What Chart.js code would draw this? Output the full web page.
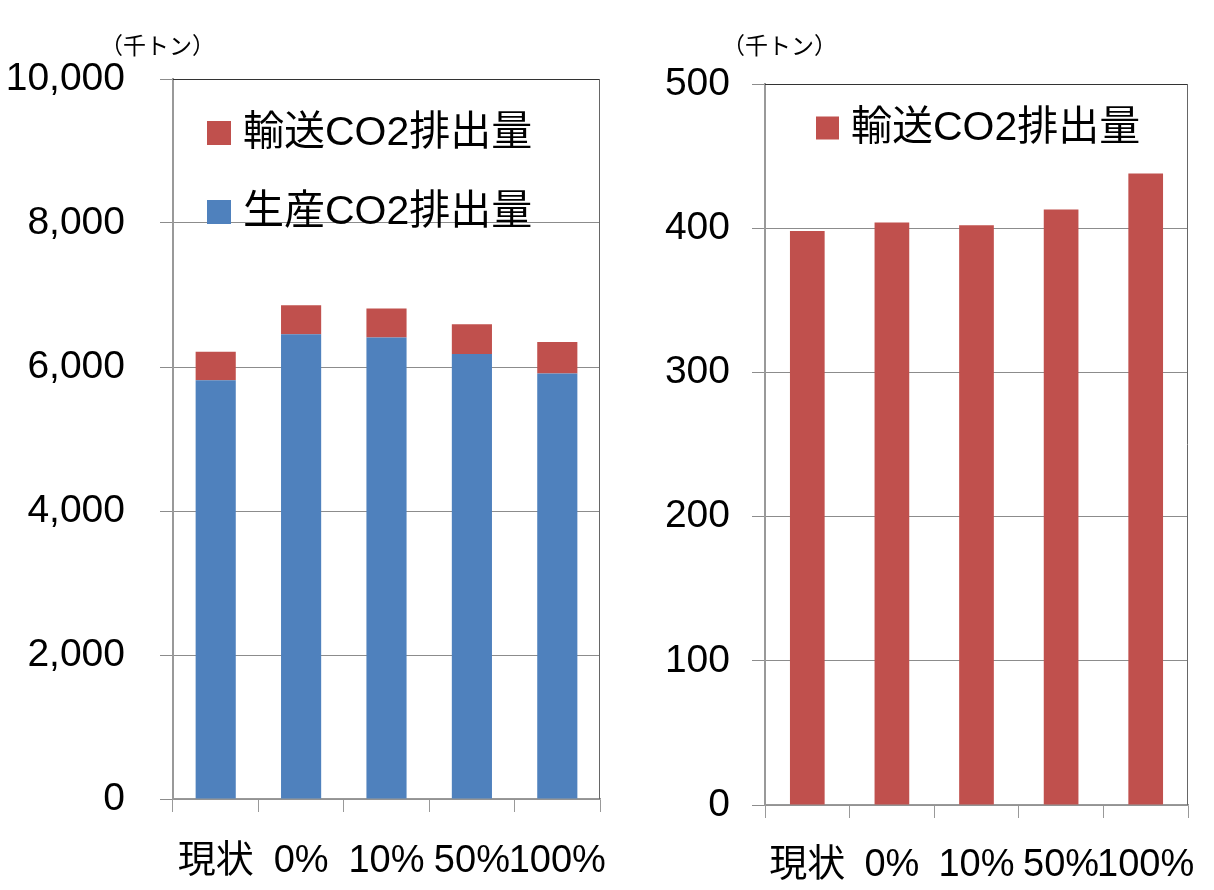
<!DOCTYPE html>
<html lang="ja">
<head>
<meta charset="utf-8">
<script src="https://cdn.jsdelivr.net/npm/chart.js@4"></script>
<style>
  html, body { margin: 0; padding: 0; background: #fff; }
  body { width: 1214px; height: 890px; position: relative; overflow: hidden; }
  .box { position: absolute; top: 0; height: 890px; }
  .unit {
    position: absolute; top: 27px;
    font: 23px "Noto Sans CJK JP", sans-serif; color: #000;
  }
</style>
</head>
<body>
<div class="box" style="left:0;width:610px"><canvas id="total"></canvas></div>
<div class="box" style="left:610px;width:604px"><canvas id="transport"></canvas></div>
<div class="unit" style="left:100px">（千トン）</div>
<div class="unit" style="left:722px">（千トン）</div>

<script>
const categories = ["現状", "0%", "10%", "50%", "100%"]
const productionCO2 = [5815, 6455, 6410, 6180, 5910]
const transportCO2 = [398, 404, 402, 413, 438]
const totalTicks = [0, 2000, 4000, 6000, 8000, 10000]
const transportTicks = [0, 100, 200, 300, 400, 500]

const RED = "#C0504D"
const BLUE = "#4F81BD"
const FONT = "'Liberation Sans', 'Noto Sans CJK JP', sans-serif"

// legend drawn inside the plot area, top item first
const insideLegend = {
  id: "insideLegend",
  afterDatasetsDraw(chart, args, opts) {
    const { ctx, chartArea } = chart
    const items = chart.data.datasets.slice().reverse()
    ctx.save()
    ctx.font = `41px ${FONT}`
    ctx.textBaseline = "middle"
    items.forEach((ds, i) => {
      const x = chartArea.left + opts.x
      const cy = chartArea.top + opts.y + i * opts.step
      ctx.fillStyle = ds.backgroundColor
      ctx.fillRect(x, cy - opts.box / 2, opts.box, opts.box)
      ctx.fillStyle = "#000"
      ctx.fillText(ds.label, x + opts.box + 12, cy + 1)
    })
    ctx.restore()
  },
}

// top and right edges of the plot frame
const frame = {
  id: "frame",
  afterDraw(chart) {
    const { ctx, chartArea: a } = chart
    ctx.save()
    ctx.lineWidth = 1
    ctx.strokeStyle = "#333"
    ctx.beginPath()
    ctx.moveTo(a.left, a.top + 0.5)
    ctx.lineTo(a.right, a.top + 0.5)
    ctx.stroke()
    ctx.strokeStyle = "#666"
    ctx.beginPath()
    ctx.moveTo(a.right - 0.5, a.top)
    ctx.lineTo(a.right - 0.5, a.bottom)
    ctx.stroke()
    ctx.restore()
  },
}

function makeOptions(cfg) {
  return {
    animation: false,
    responsive: true,
    maintainAspectRatio: false,
    devicePixelRatio: 1,
    events: [],
    layout: { padding: { top: cfg.top, right: cfg.right, bottom: 0, left: 0 } },
    plugins: {
      legend: { display: false },
      tooltip: { enabled: false },
      insideLegend: cfg.legend,
    },
    scales: {
      x: {
        stacked: true,
        afterFit: (s) => {
          s.height = cfg.xHeight
          s.paddingLeft = 0
          s.paddingRight = 0
        },
        grid: {
          offset: true,
          drawOnChartArea: false,
          drawTicks: true,
          tickLength: 13,
          color: "#999",
        },
        border: { color: "#999", width: 1.5 },
        ticks: {
          autoSkip: false,
          maxRotation: 0,
          padding: cfg.xPad,
          color: "#000",
          font: { family: FONT, size: 38 },
        },
      },
      y: {
        stacked: true,
        min: 0,
        max: cfg.max,
        afterFit: (s) => {
          s.width = cfg.yWidth
          s.paddingTop = 0
          s.paddingBottom = 0
        },
        afterBuildTicks: (s) => { s.ticks = cfg.ticks.map((v) => ({ value: v })) },
        grid: { color: "#8c8c8c", tickLength: 13 },
        border: { color: "#999", width: 2 },
        ticks: {
          padding: cfg.yPad,
          color: "#000",
          font: { family: FONT, size: 39 },
          callback: (v) => v.toLocaleString("en-US"),
        },
      },
    },
  }
}

new Chart(document.getElementById("total"), {
  type: "bar",
  data: {
    labels: categories,
    datasets: [
      {
        label: "生産CO2排出量",
        data: productionCO2,
        backgroundColor: BLUE,
        categoryPercentage: 1,
        barPercentage: 0.47,
      },
      {
        label: "輸送CO2排出量",
        data: transportCO2,
        backgroundColor: RED,
        categoryPercentage: 1,
        barPercentage: 0.47,
      },
    ],
  },
  options: makeOptions({
    top: 79, right: 10, xHeight: 91, yWidth: 173,
    xPad: 27, yPad: 35, max: 10000, ticks: totalTicks,
    legend: { x: 34, y: 54, step: 79, box: 24 },
  }),
  plugins: [insideLegend, frame],
})

new Chart(document.getElementById("transport"), {
  type: "bar",
  data: {
    labels: categories,
    datasets: [
      {
        label: "輸送CO2排出量",
        data: transportCO2,
        backgroundColor: RED,
        categoryPercentage: 1,
        barPercentage: 0.41,
      },
    ],
  },
  options: makeOptions({
    top: 84, right: 26, xHeight: 85, yWidth: 155,
    xPad: 25, yPad: 22, max: 500, ticks: transportTicks,
    legend: { x: 51, y: 44, step: 79, box: 23 },
  }),
  plugins: [insideLegend, frame],
})
</script>
</body>
</html>
